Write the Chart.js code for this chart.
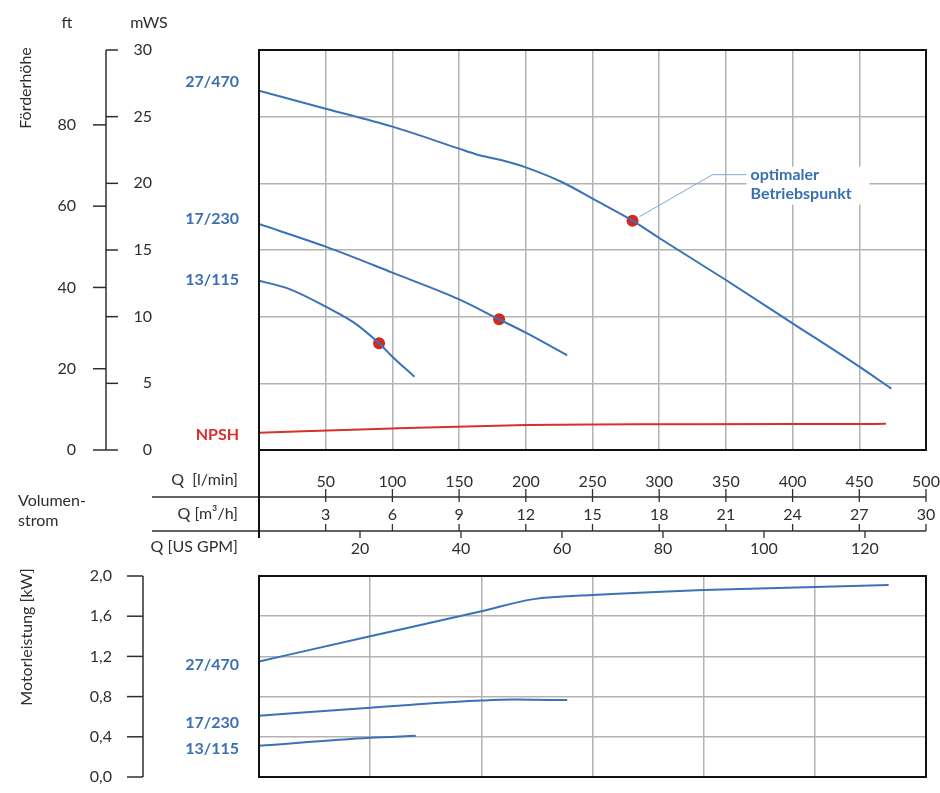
<!DOCTYPE html>
<html>
<head>
<meta charset="utf-8">
<script src="https://cdn.jsdelivr.net/npm/chart.js@4/dist/chart.umd.min.js"></script>
<style>
  body { margin: 0; background: #fff; }
  #wrap { position: relative; width: 940px; height: 793px; }
  #top { position: absolute; left: 0; top: 0; }
  #bottom { position: absolute; left: 0; top: 560px; }
</style>
</head>
<body>
<div id="wrap">
  <canvas id="top" width="940" height="565"></canvas>
  <canvas id="bottom" width="940" height="233"></canvas>
</div>
<script>
// Förderhöhe (mWS) über Q (l/min)
const q27 = [0, 50, 100, 150, 162, 187, 200, 227, 250, 280, 300, 350, 400, 450, 474];
const h27 = [26.95, 25.6, 24.25, 22.6, 22.2, 21.6, 21.2, 20.1, 18.85, 17.2, 15.9, 12.75, 9.5, 6.25, 4.6];
const q17 = [0, 50, 100, 150, 180, 200, 231];
const h17 = [16.95, 15.25, 13.3, 11.3, 9.8, 8.8, 7.1];
const q13 = [0, 22, 50, 72, 90, 100, 116.5];
const h13 = [12.7, 12.1, 10.75, 9.5, 8.0, 7.0, 5.5];
const qNpsh = [0, 100, 200, 250, 300, 400, 470];
const hNpsh = [1.3, 1.62, 1.87, 1.92, 1.93, 1.95, 1.96];

// optimale Betriebspunkte (13/115, 17/230, 27/470)
const bepQ = [90, 180, 280];
const bepH = [8.0, 9.8, 17.2];

// Motorleistung (kW) über Q (l/min)
const pq27 = [0, 83.3, 166.7, 206, 250, 333.3, 416.7, 472];
const p27 = [1.15, 1.40, 1.65, 1.77, 1.81, 1.86, 1.89, 1.91];
const pq17 = [0, 83.3, 115, 166.7, 191, 231];
const p17 = [0.61, 0.69, 0.72, 0.76, 0.77, 0.765];
const pq13 = [0, 83.3, 117.5];
const p13 = [0.31, 0.39, 0.41];

// Achsen
const Q_MAX = 500;               // l/min
const MWS_MAX = 30;
const FT_PER_M = 1 / 0.3048;
const LPM_PER_GPM = 3.785411784;
const KW_MAX = 2.0;

const BLUE = '#3a72b8';
const LABEL_BLUE = '#3b6fb4';
const RED = '#d8302a';
const DOT = '#d2281f';
const GRID = '#b3b3b3';
const INK = '#2e2e2e';
const FONT = 'Lato, "Open Sans", sans-serif';

const tickFont = { family: FONT, size: 16 };

function pts(xs, ys) {
  return xs.map((x, i) => ({ x: x, y: ys[i] }));
}

function curve(label, xs, ys, color, xId, yId) {
  return {
    label: label,
    data: pts(xs, ys),
    borderColor: color,
    borderWidth: 2,
    pointRadius: 0,
    tension: 0.4,
    cubicInterpolationMode: 'monotone',
    fill: false,
    xAxisID: xId,
    yAxisID: yId
  };
}

// feste Boxgrößen, ohne die Auto-Ränder für die Tick-Beschriftung
function sized(w, h) {
  return s => {
    if (w !== null) s.width = w;
    if (h !== null) s.height = h;
    s.paddingTop = 0;
    s.paddingBottom = 0;
    s.paddingLeft = 0;
    s.paddingRight = 0;
  };
}

function line(ctx, x1, y1, x2, y2) {
  ctx.beginPath();
  ctx.moveTo(x1, y1);
  ctx.lineTo(x2, y2);
  ctx.stroke();
}

function text(ctx, s, x, y, font, color, align) {
  ctx.font = font;
  ctx.fillStyle = color;
  ctx.textAlign = align || 'left';
  ctx.textBaseline = 'middle';
  ctx.fillText(s, x, y);
}

const headLabels = [
  { text: '27/470', at: 27.6, color: LABEL_BLUE },
  { text: '17/230', at: 17.3, color: LABEL_BLUE },
  { text: '13/115', at: 12.75, color: LABEL_BLUE },
  { text: 'NPSH', at: 1.1, color: RED }
];
const powerLabels = [
  { text: '27/470', at: 1.12 },
  { text: '17/230', at: 0.54 },
  { text: '13/115', at: 0.28 }
];

function bestPoint(chart) {
  return {
    x: chart.scales.q.getPixelForValue(bepQ[2]),
    y: chart.scales.mws.getPixelForValue(bepH[2])
  };
}

// Zeichnungen rund um das obere Diagramm
const topDecor = {
  id: 'topDecor',
  beforeDatasetsDraw(chart) {
    const ctx = chart.ctx;
    const p = bestPoint(chart);
    ctx.save();
    ctx.fillStyle = '#fff';
    ctx.fillRect(p.x + 114, p.y - 54, 123, 38);
    ctx.restore();
  },
  afterDraw(chart) {
    const ctx = chart.ctx;
    const a = chart.chartArea;
    const { q, m3h, gpm, mws, ft } = chart.scales;
    ctx.save();

    // Rahmen
    ctx.strokeStyle = '#111';
    ctx.lineWidth = 2;
    ctx.strokeRect(a.left, a.top, a.right - a.left, a.bottom - a.top);

    // gemeinsame Achse ft / mWS
    const ax = 106;
    ctx.strokeStyle = INK;
    ctx.lineWidth = 1.5;
    line(ctx, ax, mws.top, ax, mws.bottom);
    mws.ticks.forEach(t => {
      const y = mws.getPixelForValue(t.value);
      line(ctx, ax, y, ax + 12, y);
    });
    ft.ticks.forEach(t => {
      const y = ft.getPixelForValue(t.value);
      line(ctx, ax - 13, y, ax, y);
    });

    text(ctx, 'ft', 67, 23, '16px ' + FONT, INK, 'center');
    text(ctx, 'mWS', 149, 23, '16px ' + FONT, INK, 'center');
    ctx.save();
    ctx.translate(26, 88);
    ctx.rotate(-Math.PI / 2);
    text(ctx, 'Förderhöhe', 0, 0, '16px ' + FONT, INK, 'center');
    ctx.restore();

    // Volumenstrom-Zeilen
    const y1 = m3h.top, y2 = gpm.top;
    ctx.strokeStyle = INK;
    ctx.lineWidth = 1.3;
    line(ctx, 152, y1, q.right, y1);
    line(ctx, 152, y2, q.right, y2);
    q.ticks.forEach(t => {
      if (t.value === 0) return;
      const x = q.getPixelForValue(t.value);
      line(ctx, x, y1 - 8, x, y1);
    });
    m3h.ticks.forEach(t => {
      if (t.value === 0) return;
      const x = m3h.getPixelForValue(t.value);
      line(ctx, x, y1, x, y1 + 5);
      line(ctx, x, y2 - 7, x, y2);
    });
    gpm.ticks.forEach(t => {
      if (t.value === 0) return;
      const x = gpm.getPixelForValue(t.value);
      line(ctx, x, y2, x, y2 + 7);
    });
    ctx.strokeStyle = '#111';
    ctx.lineWidth = 2;
    line(ctx, a.left, a.bottom, a.left, y2 + 7);

    text(ctx, 'Q  [l/min]', 238, y1 - 17, '16px ' + FONT, INK, 'right');
    text(ctx, 'Q [m³/h]', 238, (y1 + y2) / 2, '16px ' + FONT, INK, 'right');
    text(ctx, 'Q [US GPM]', 238, y2 + 16, '16px ' + FONT, INK, 'right');
    text(ctx, 'Volumen-', 18, 501, '16px ' + FONT, INK, 'left');
    text(ctx, 'strom', 18, 521, '16px ' + FONT, INK, 'left');

    // Kennlinien-Namen
    headLabels.forEach(l => {
      text(ctx, l.text, 239, mws.getPixelForValue(l.at), 'bold 16px ' + FONT, l.color, 'right');
    });

    // optimaler Betriebspunkt
    const p = bestPoint(chart);
    ctx.strokeStyle = '#7ea7d8';
    ctx.lineWidth = 1;
    ctx.beginPath();
    ctx.moveTo(p.x + 7, p.y - 4);
    ctx.lineTo(p.x + 80, p.y - 46);
    ctx.lineTo(p.x + 114, p.y - 46);
    ctx.stroke();
    text(ctx, 'optimaler', p.x + 118, p.y - 46, 'bold 16px ' + FONT, LABEL_BLUE, 'left');
    text(ctx, 'Betriebspunkt', p.x + 118, p.y - 27, 'bold 16px ' + FONT, LABEL_BLUE, 'left');

    ctx.restore();
  }
};

new Chart(document.getElementById('top'), {
  type: 'line',
  data: {
    datasets: [
      curve('27/470', q27, h27, BLUE, 'q', 'mws'),
      curve('17/230', q17, h17, BLUE, 'q', 'mws'),
      curve('13/115', q13, h13, BLUE, 'q', 'mws'),
      curve('NPSH', qNpsh, hNpsh, RED, 'q', 'mws'),
      {
        label: 'optimaler Betriebspunkt',
        data: pts(bepQ, bepH),
        showLine: false,
        pointRadius: 6,
        pointBackgroundColor: DOT,
        pointBorderWidth: 0,
        xAxisID: 'q',
        yAxisID: 'mws'
      }
    ]
  },
  options: {
    responsive: false,
    animation: false,
    layout: { padding: { top: 50, right: 14, left: 0, bottom: 0 } },
    plugins: { legend: { display: false }, tooltip: { enabled: false } },
    scales: {
      q: {
        type: 'linear', position: 'bottom', weight: 0, min: 0, max: Q_MAX,
        ticks: { stepSize: 50, padding: 22, font: tickFont, color: INK, maxRotation: 0, autoSkip: false,
                 callback: v => v === 0 ? '' : v },
        grid: { color: GRID, lineWidth: 1.5, drawTicks: false },
        border: { color: '#111', width: 2 },
        afterFit: sized(null, 47)
      },
      m3h: {
        type: 'linear', position: 'bottom', weight: 1, min: 0, max: Q_MAX * 60 / 1000,
        ticks: { stepSize: 3, padding: 8, font: tickFont, color: INK, maxRotation: 0, autoSkip: false,
                 callback: v => v === 0 ? '' : v },
        grid: { display: false, drawTicks: false },
        border: { display: false },
        afterFit: sized(null, 34)
      },
      gpm: {
        type: 'linear', position: 'bottom', weight: 2, min: 0, max: Q_MAX / LPM_PER_GPM,
        ticks: { stepSize: 20, includeBounds: false, padding: 8, font: tickFont, color: INK, maxRotation: 0, autoSkip: false,
                 callback: v => v === 0 ? '' : v },
        grid: { display: false, drawTicks: false },
        border: { display: false },
        afterFit: sized(null, 34)
      },
      mws: {
        type: 'linear', position: 'left', weight: 1, min: 0, max: MWS_MAX,
        ticks: { stepSize: 5, padding: 107, font: tickFont, color: INK },
        grid: { color: GRID, lineWidth: 1.5, drawTicks: false },
        border: { color: '#111', width: 2 },
        afterFit: sized(159, null)
      },
      ft: {
        type: 'linear', position: 'left', weight: 2, min: 0, max: MWS_MAX * FT_PER_M,
        ticks: { stepSize: 20, includeBounds: false, padding: 24, font: tickFont, color: INK },
        grid: { display: false, drawTicks: false },
        border: { display: false },
        afterFit: sized(100, null)
      }
    }
  },
  plugins: [topDecor]
});

// Zeichnungen rund um das untere Diagramm
const bottomDecor = {
  id: 'bottomDecor',
  afterDraw(chart) {
    const ctx = chart.ctx;
    const a = chart.chartArea;
    const kw = chart.scales.kw;
    ctx.save();
    ctx.strokeStyle = '#111';
    ctx.lineWidth = 2;
    ctx.strokeRect(a.left, a.top, a.right - a.left, a.bottom - a.top);

    const ax = 143;
    ctx.strokeStyle = INK;
    ctx.lineWidth = 1.5;
    line(ctx, ax, kw.top, ax, kw.bottom);
    kw.ticks.forEach(t => {
      const y = kw.getPixelForValue(t.value);
      line(ctx, ax - 16, y, ax, y);
    });

    ctx.save();
    ctx.translate(27, 77);
    ctx.rotate(-Math.PI / 2);
    text(ctx, 'Motorleistung [kW]', 0, 0, '16px ' + FONT, INK, 'center');
    ctx.restore();

    powerLabels.forEach(l => {
      text(ctx, l.text, 239, kw.getPixelForValue(l.at), 'bold 16px ' + FONT, LABEL_BLUE, 'right');
    });
    ctx.restore();
  }
};

new Chart(document.getElementById('bottom'), {
  type: 'line',
  data: {
    datasets: [
      curve('27/470', pq27, p27, BLUE, 'qb', 'kw'),
      curve('17/230', pq17, p17, BLUE, 'qb', 'kw'),
      curve('13/115', pq13, p13, BLUE, 'qb', 'kw')
    ]
  },
  options: {
    responsive: false,
    animation: false,
    layout: { padding: { top: 16, right: 14, left: 0, bottom: 16 } },
    plugins: { legend: { display: false }, tooltip: { enabled: false } },
    scales: {
      qb: { type: 'linear', position: 'bottom', min: 0, max: Q_MAX, display: false },
      m3grid: {
        type: 'linear', position: 'bottom', min: 0, max: Q_MAX * 60 / 1000,
        ticks: { stepSize: 5, display: false },
        grid: { color: GRID, lineWidth: 1.5, drawTicks: false },
        border: { color: '#111', width: 2 },
        afterFit: sized(null, 0)
      },
      kw: {
        type: 'linear', position: 'left', min: 0, max: KW_MAX,
        ticks: { stepSize: 0.4, padding: 147, font: tickFont, color: INK,
                 callback: v => v.toFixed(1).replace('.', ',') },
        grid: { color: GRID, lineWidth: 1.5, drawTicks: false },
        border: { color: '#111', width: 2 },
        afterFit: sized(259, null)
      }
    }
  },
  plugins: [bottomDecor]
});
</script>
</body>
</html>
